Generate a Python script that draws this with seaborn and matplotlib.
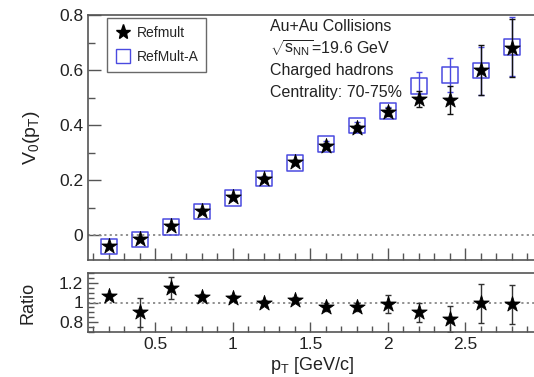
import numpy as np
import pandas as pd
import matplotlib
matplotlib.use("Agg")
import matplotlib.pyplot as plt
from matplotlib.ticker import MultipleLocator, FuncFormatter
from matplotlib.lines import Line2D
import seaborn as sns

# transverse momentum bins
pt = [0.2, 0.4, 0.6, 0.8, 1.0, 1.2, 1.4, 1.6, 1.8, 2.0, 2.2, 2.4, 2.6, 2.8]

# v0(pT) with Refmult centrality definition
v0_refmult = [-0.040, -0.015, 0.033, 0.087, 0.138, 0.204, 0.265, 0.324, 0.389, 0.447, 0.494, 0.492, 0.600, 0.680]
err_refmult = [0.006, 0.006, 0.006, 0.006, 0.006, 0.007, 0.008, 0.010, 0.012, 0.015, 0.030, 0.050, 0.090, 0.105]

# v0(pT) with RefMult-A centrality definition
v0_refmulta = [-0.040, -0.015, 0.030, 0.085, 0.135, 0.207, 0.262, 0.331, 0.400, 0.451, 0.542, 0.582, 0.597, 0.684]
err_refmulta = [0.005, 0.005, 0.005, 0.006, 0.006, 0.007, 0.008, 0.010, 0.012, 0.016, 0.050, 0.060, 0.087, 0.107]

# Refmult / RefMult-A
ratio = [1.07, 0.90, 1.15, 1.055, 1.05, 1.00, 1.03, 0.95, 0.955, 0.985, 0.90, 0.83, 0.99, 0.98]
err_ratio = [0.02, 0.15, 0.11, 0.03, 0.03, 0.03, 0.03, 0.04, 0.04, 0.09, 0.10, 0.13, 0.20, 0.20]

df = pd.DataFrame({"pt": pt, "refmult": v0_refmult, "e_ref": err_refmult,
                   "refmulta": v0_refmulta, "e_refa": err_refmulta,
                   "ratio": ratio, "e_ratio": err_ratio})

sns.set_theme(style="ticks")
plt.rcParams["font.family"] = ["Liberation Sans", "DejaVu Sans"]
plt.rcParams["mathtext.fontset"] = "custom"
plt.rcParams["mathtext.rm"] = "Liberation Sans"
plt.rcParams["mathtext.it"] = "Liberation Sans:italic"
plt.rcParams["mathtext.sf"] = "Liberation Sans"

W, H = 534, 377
fig = plt.figure(figsize=(W / 100, H / 100), dpi=100)

xmin, xmax = 0.065, 2.96
px_per_unit = 155.0
left = 88 / W
width = (xmax - xmin) * px_per_unit / W

ax = fig.add_axes([left, (H - 260) / H, width, (260 - 15) / H])
axr = fig.add_axes([left, (H - 332) / H, width, (332 - 273) / H])

blue = "#4a4ae0"
spine_col = "#555555"
txt_col = "#222222"

# ---- upper panel ----
ax.axhline(0, color="#888888", ls=(0, (1.2, 1.8)), lw=1.3, zorder=1)
ax.errorbar(df.pt, df.refmulta, yerr=df.e_refa, fmt="none", ecolor=blue,
            elinewidth=1.0, capsize=2, capthick=1.0, zorder=2)
sns.scatterplot(data=df, x="pt", y="refmulta", ax=ax, marker="s", s=120,
                facecolor="none", edgecolor=blue, linewidth=1.1, zorder=3)
ax.errorbar(df.pt, df.refmult, yerr=df.e_ref, fmt="none", ecolor="#111111",
            elinewidth=1.0, capsize=2, capthick=1.0, zorder=4)
sns.scatterplot(data=df, x="pt", y="refmult", ax=ax, marker="*", s=135,
                color="black", edgecolor="black", linewidth=0.6, zorder=5)

ax.set_xlim(xmin, xmax)
ax.set_ylim(-0.09, 0.8)
ax.set_xlabel("")
ax.set_ylabel(r"$\mathregular{V_0(p_T)}$", fontsize=14, color=txt_col, labelpad=12)
ax.yaxis.set_major_locator(MultipleLocator(0.2))
ax.yaxis.set_minor_locator(MultipleLocator(0.1))
ax.xaxis.set_major_locator(MultipleLocator(0.5))
ax.xaxis.set_minor_locator(MultipleLocator(0.1))
ax.yaxis.set_major_formatter(FuncFormatter(lambda v, _: "0" if abs(v) < 1e-9 else f"{v:g}"))
ax.tick_params(axis="x", which="both", direction="in", labelbottom=False)
ax.tick_params(axis="both", which="major", direction="in", length=9, width=1, color=spine_col,
               labelsize=12.5, labelcolor=txt_col)
ax.tick_params(axis="both", which="minor", direction="in", length=5, width=1, color=spine_col)

lh_ref = Line2D([], [], color="black", marker="*", ms=11, ls="none")
lh_refa = Line2D([], [], color=blue, marker="s", ms=10, mfc="none", ls="none")
leg = ax.legend([lh_ref, lh_refa], ["Refmult", "RefMult-A"], loc="upper left",
                bbox_to_anchor=(0.042, 0.988), borderaxespad=0, frameon=True,
                fancybox=False, edgecolor="#444444", fontsize=10, handletextpad=0.4,
                borderpad=0.55, labelspacing=0.75, handlelength=1.2)
leg.get_frame().set_linewidth(1.0)

tx = (270 - 88) / ((xmax - xmin) * px_per_unit)
for i, s in enumerate(["Au+Au Collisions",
                       r"$\sqrt{\mathregular{s_{NN}}}$=19.6 GeV",
                       "Charged hadrons",
                       "Centrality: 70-75%"]):
    ax.text(tx, 0.955 - i * 0.091, s, transform=ax.transAxes, fontsize=11.5,
            color=txt_col, va="center", ha="left")

# ---- ratio panel ----
axr.axhline(1, color="#888888", ls=(0, (1.2, 1.8)), lw=1.3, zorder=1)
axr.errorbar(df.pt, df.ratio, yerr=df.e_ratio, fmt="none", ecolor="#333333",
             elinewidth=1.0, capsize=2, capthick=1.0, zorder=2)
sns.scatterplot(data=df, x="pt", y="ratio", ax=axr, marker="*", s=135,
                color="black", edgecolor="black", linewidth=0.6, zorder=3)
axr.set_xlim(xmin, xmax)
axr.set_ylim(0.7, 1.3)
axr.set_ylabel("Ratio", fontsize=13, color=txt_col, labelpad=16)
axr.set_xlabel(r"$\mathregular{p_T}$ [GeV/c]", fontsize=13, color=txt_col, labelpad=2)
axr.xaxis.set_major_locator(MultipleLocator(0.5))
axr.xaxis.set_minor_locator(MultipleLocator(0.1))
axr.yaxis.set_major_locator(MultipleLocator(0.2))
axr.yaxis.set_minor_locator(MultipleLocator(0.05))
axr.xaxis.set_major_formatter(FuncFormatter(lambda v, _: f"{v:g}"))
axr.yaxis.set_major_formatter(FuncFormatter(lambda v, _: f"{v:g}"))
axr.tick_params(axis="both", which="major", direction="in", length=7, width=1, color=spine_col,
                labelsize=12.5, labelcolor=txt_col)
axr.tick_params(axis="both", which="minor", direction="in", length=4, width=1, color=spine_col)

for a in (ax, axr):
    for sp in a.spines.values():
        sp.set_color(spine_col)
        sp.set_linewidth(1.2)

fig.savefig("out.png", dpi=100)
